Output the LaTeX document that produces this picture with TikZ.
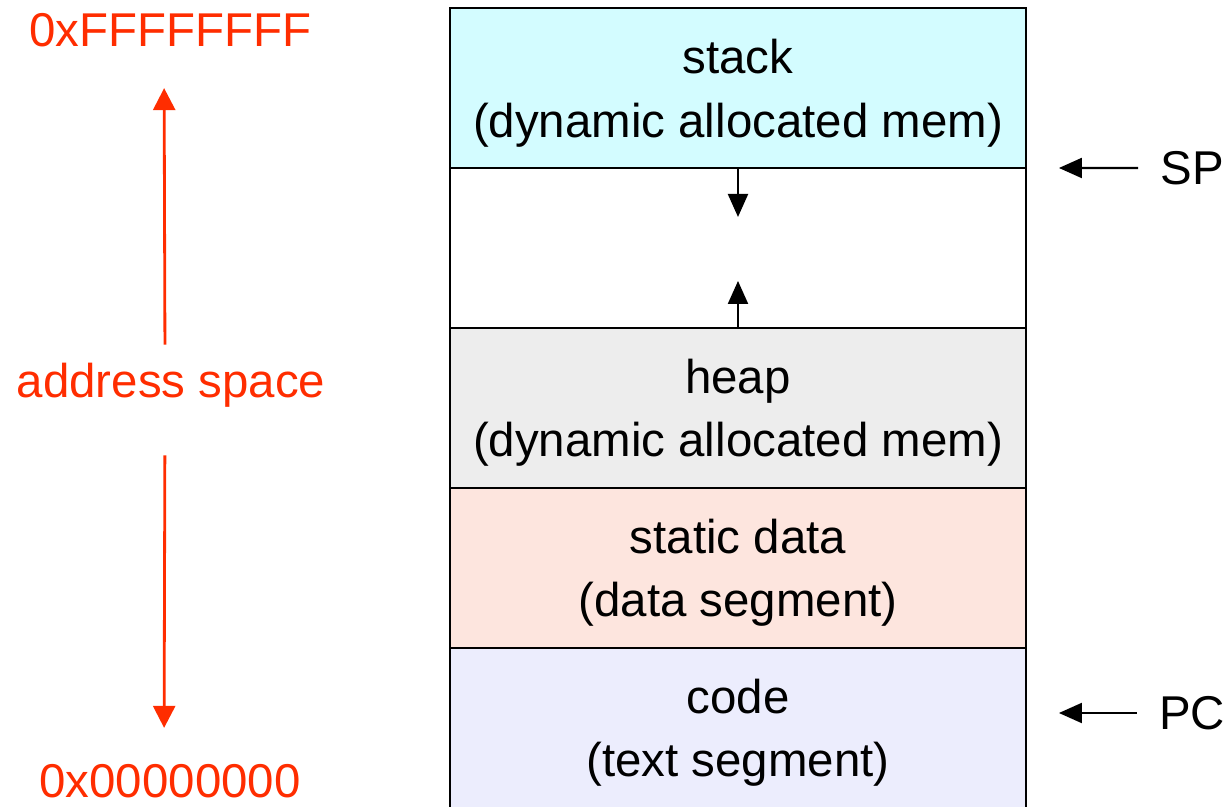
\documentclass[tikz,border=0pt]{standalone}
\usepackage{fontspec}
\setmainfont{Liberation Sans}
\usetikzlibrary{positioning,arrows.meta}
\definecolor{stackcol}{RGB}{211,252,255}
\definecolor{heapcol}{RGB}{237,237,237}
\definecolor{datacol}{RGB}{253,229,222}
\definecolor{codecol}{RGB}{236,237,253}
\definecolor{addrred}{RGB}{255,45,0}
\newcommand{\segstrut}{\rule{0pt}{25.4pt}}
\begin{document}
\begin{tikzpicture}[x=0.02cm, y=-0.02cm, node distance=0pt,
    seg/.style = {draw, line width=1.2pt, outer sep=0pt, minimum width=11.52cm, minimum height=3.2cm, align=center, font=\fontsize{27}{36}\selectfont},
    addr/.style = {text=addrred, inner sep=0pt, font=\fontsize{27}{32}\selectfont},
    reg/.style = {inner sep=0pt, font=\fontsize{27}{32}\selectfont},
    redarrow/.style = {color=addrred, line width=1.6pt, -{Triangle[length=0.44cm, width=0.44cm]}},
    blkarrow/.style = {line width=1.2pt, -{Triangle[length=0.46cm, width=0.4cm]}}]
		\useasboundingbox (0,0) rectangle (1228,807);
		\node[seg, fill=stackcol] (stack) at (738,88) {\segstrut stack\\(dynamic allocated mem)};
		\node[seg] (free) [below=of stack] {};
		\node[seg, fill=heapcol] (heap) [below=of free] {\segstrut heap\\(dynamic allocated mem)};
		\node[seg, fill=datacol] (data) [below=of heap] {\segstrut static data\\(data segment)};
		\node[seg, fill=codecol] (code) [below=of data] {\segstrut code\\(text segment)};
		\node[addr] (top) at (170,30) {0xFFFFFFFF};
		\node[addr] (space) at (171,385) {address space};
		\node[addr] (bot) at (170,781) {0x00000000};
		\node[reg] (sp) at (1192,168) {SP};
		\node[reg] (pc) at (1192,713) {PC};
		\draw[blkarrow] (free.north) -- ([yshift=-0.98cm]free.north);
		\draw[blkarrow] (free.south) -- ([yshift=0.94cm]free.south);
		\draw[blkarrow, shorten <=0.44cm, shorten >=0.66cm] (sp.west) -- (stack.south east);
		\draw[blkarrow, shorten <=0.44cm, shorten >=0.66cm] (pc.west) -- (pc.west -| code.east);
		\draw[redarrow, shorten <=0.36cm, shorten >=0.82cm] ([xshift=-0.12cm]space.north) -- ([xshift=-0.12cm]top.south);
		\draw[redarrow, shorten <=0.96cm, shorten >=0.72cm] ([xshift=-0.12cm]space.south) -- ([xshift=-0.12cm]bot.north);
	\end{tikzpicture}
\end{document}
